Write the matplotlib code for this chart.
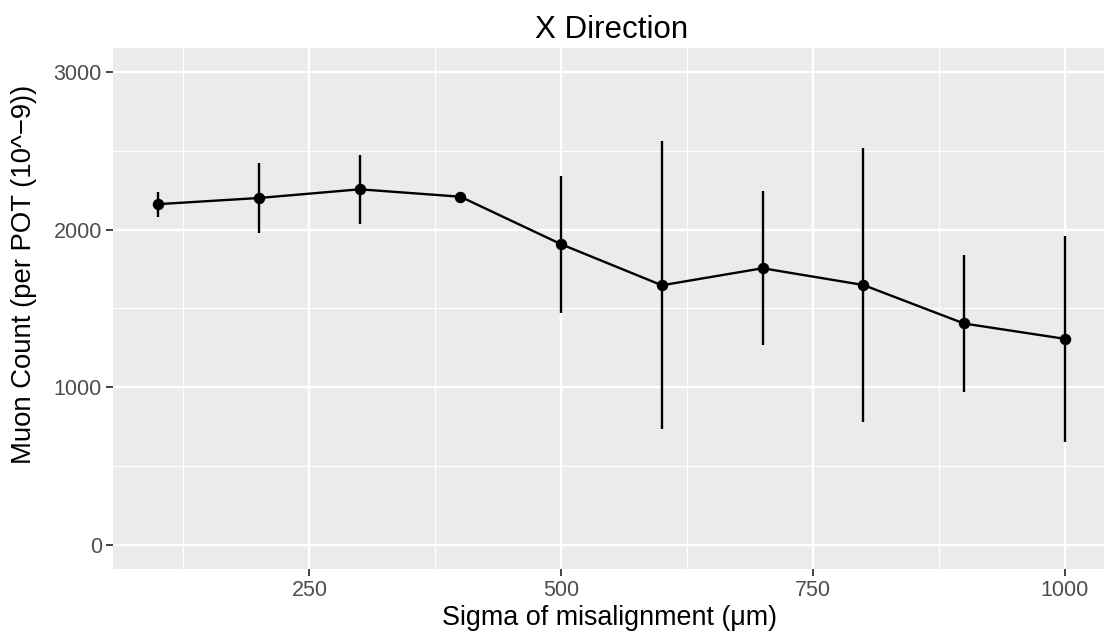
import matplotlib
matplotlib.use("Agg")
from matplotlib import pyplot as plt

plt.rcParams['font.family'] = ['Liberation Sans', 'DejaVu Sans']

# misalignment sigma (um) and muon count per POT (1e-9)
sigma = [100, 200, 300, 400, 500, 600, 700, 800, 900, 1000]
count = [2161, 2200, 2255, 2208, 1907, 1647, 1755, 1649, 1405, 1308]
lower = [2077, 1979, 2034, 2183, 1470, 735, 1269, 782, 968, 655]
upper = [2240, 2420, 2473, 2233, 2341, 2564, 2244, 2516, 1842, 1960]

W, H = 1104, 637
fig = plt.figure(figsize=(W / 100, H / 100), dpi=100)
# panel in pixels: left 113, right 1110 (runs off the edge), top 48, bottom 569
ax = fig.add_axes([113 / W, (H - 569) / H, 997 / W, 521 / H])

ax.set_facecolor('#EBEBEB')
for s in ax.spines.values():
    s.set_visible(False)

ax.set_xlim(55, 1045)
ax.set_ylim(-150, 3150)
ax.set_xticks([250, 500, 750, 1000])
ax.set_yticks([0, 1000, 2000, 3000])
ax.set_xticks([125, 375, 625, 875], minor=True)
ax.set_yticks([500, 1500, 2500], minor=True)
ax.grid(which='major', color='white', linewidth=1.7)
ax.grid(which='minor', color='white', linewidth=0.85)
ax.set_axisbelow(True)
ax.tick_params(axis='both', which='major', labelsize=15.5, labelcolor='#4D4D4D',
               color='#333333', length=5, width=1.3, pad=3)
ax.tick_params(axis='both', which='minor', length=0)

ax.vlines(sigma, lower, upper, colors='black', linewidth=1.7, zorder=3)
ax.plot(sigma, count, color='black', linewidth=1.7, zorder=4)
ax.scatter(sigma, count, s=68, color='black', zorder=5, linewidths=0)

ax.set_title('X Direction', fontsize=22.5, pad=7)
fig.text(610 / W, (H - 625) / H, 'Sigma of misalignment (\u03bcm)', fontsize=19.4,
         ha='center', va='baseline')
fig.text(24 / W, (H - 274) / H, 'Muon Count (per POT (10^\u22129))', fontsize=19.8,
         ha='center', va='center', rotation=90)

fig.savefig('out.png', dpi=100)
